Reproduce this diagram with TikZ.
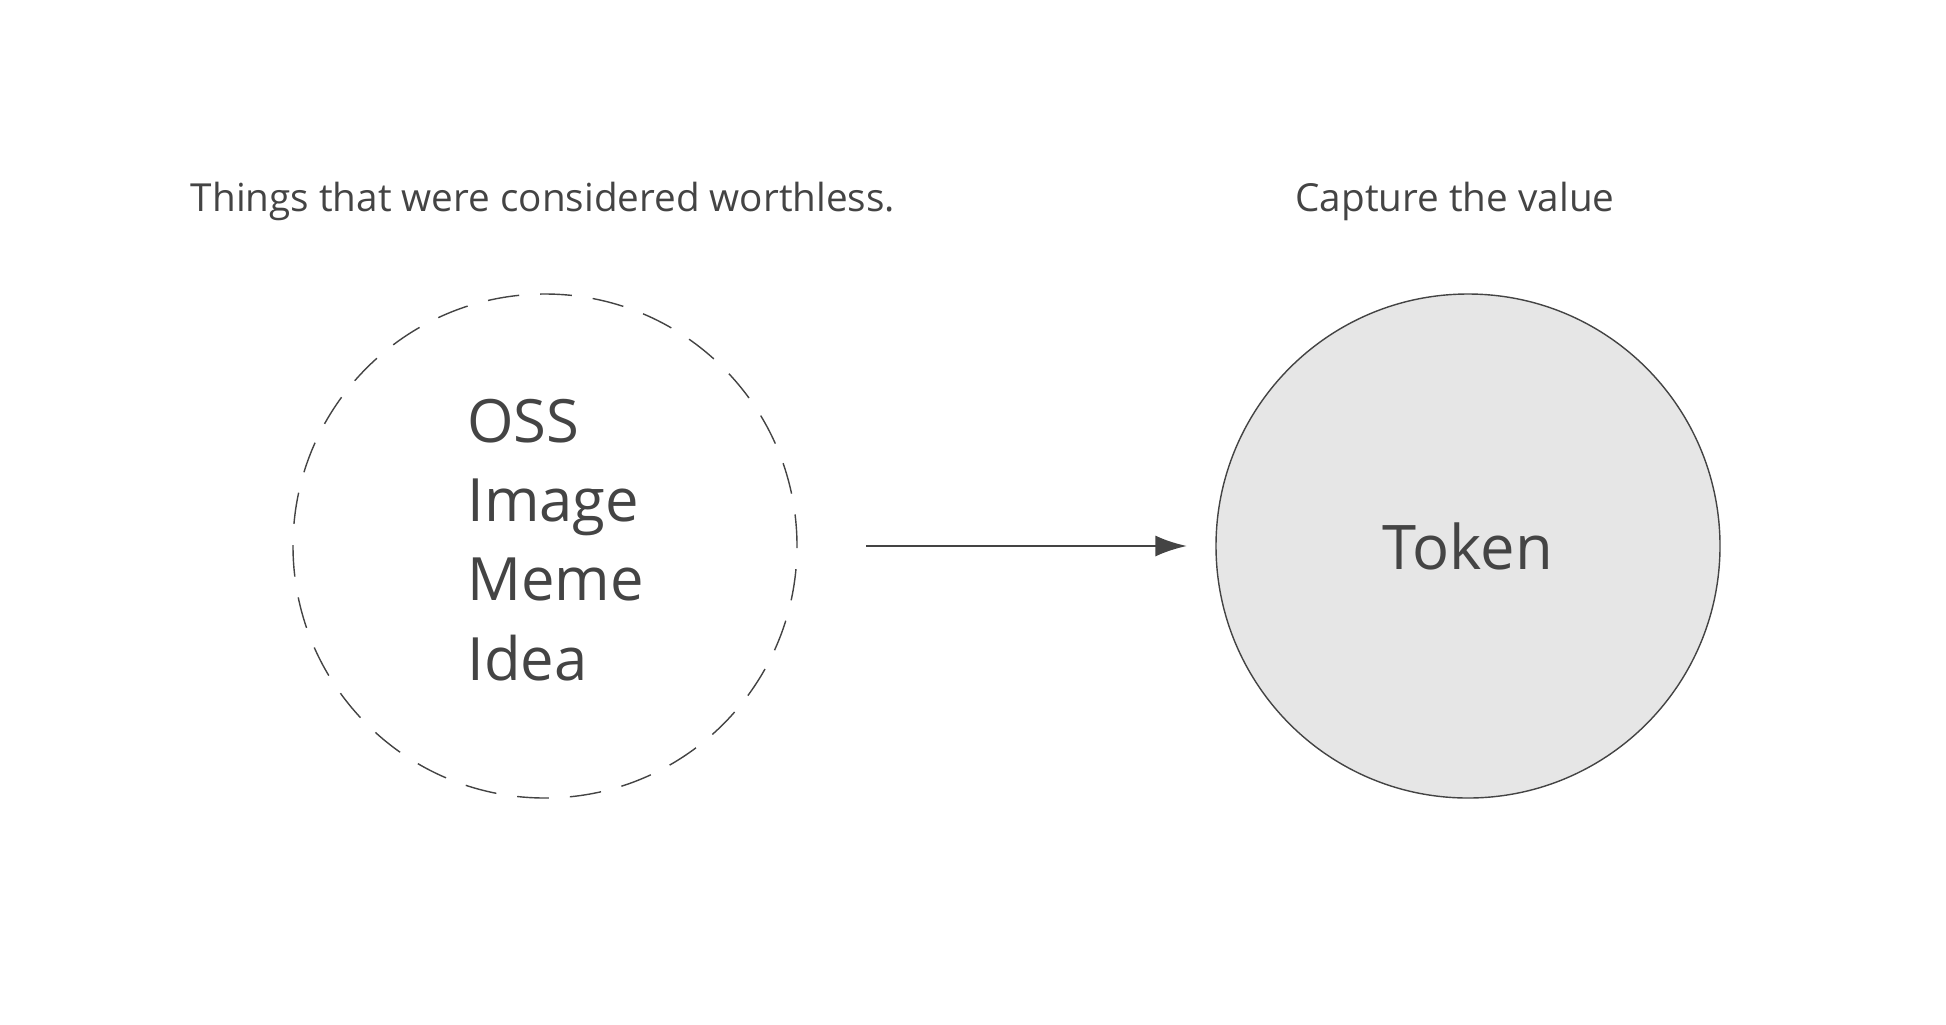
\documentclass[tikz,border=0pt]{standalone}
\usepackage{fontspec}
\setmainfont{Open Sans}
\usetikzlibrary{arrows.meta, positioning}
\definecolor{ink}{HTML}{444444}
\definecolor{tokfill}{HTML}{E6E6E6}
\tikzset{
  heading/.style={text=ink, font=\fontsize{11}{13}\selectfont},
  bigcirc/.style={circle, draw=ink, minimum size=5.04cm, inner sep=0pt},
  arrow/.style={thick, draw=ink, -{Latex[length=9pt,width=6pt]}}
}
\begin{document}
\begin{tikzpicture}
  \useasboundingbox (0,0) rectangle (19.46,-10.24);
  \node (H1) [heading] at (5.43,-2.01) {Things that were considered worthless.};
  \node (H2) [heading] at (14.55,-2.01) {Capture the value};
  \node (L) [bigcirc, dashed, dash pattern=on 9pt off 6pt] at (5.45,-5.46) {};
  \node (T) [bigcirc, fill=tokfill] at (14.68,-5.46) {};
  \node (list) [text=ink, align=left, anchor=west, font=\fontsize{17}{22.5}\selectfont] at (4.55,-5.4) {OSS\\Image\\Meme\\Idea};
  \node (tok) [text=ink, font=\fontsize{17.5}{20}\selectfont] at (T) {Token};
  \coordinate (a0) at (8.66,-5.46);
  \coordinate (a1) at (11.87,-5.46);
  \draw [arrow] (a0) -- (a1);
\end{tikzpicture}
\end{document}
